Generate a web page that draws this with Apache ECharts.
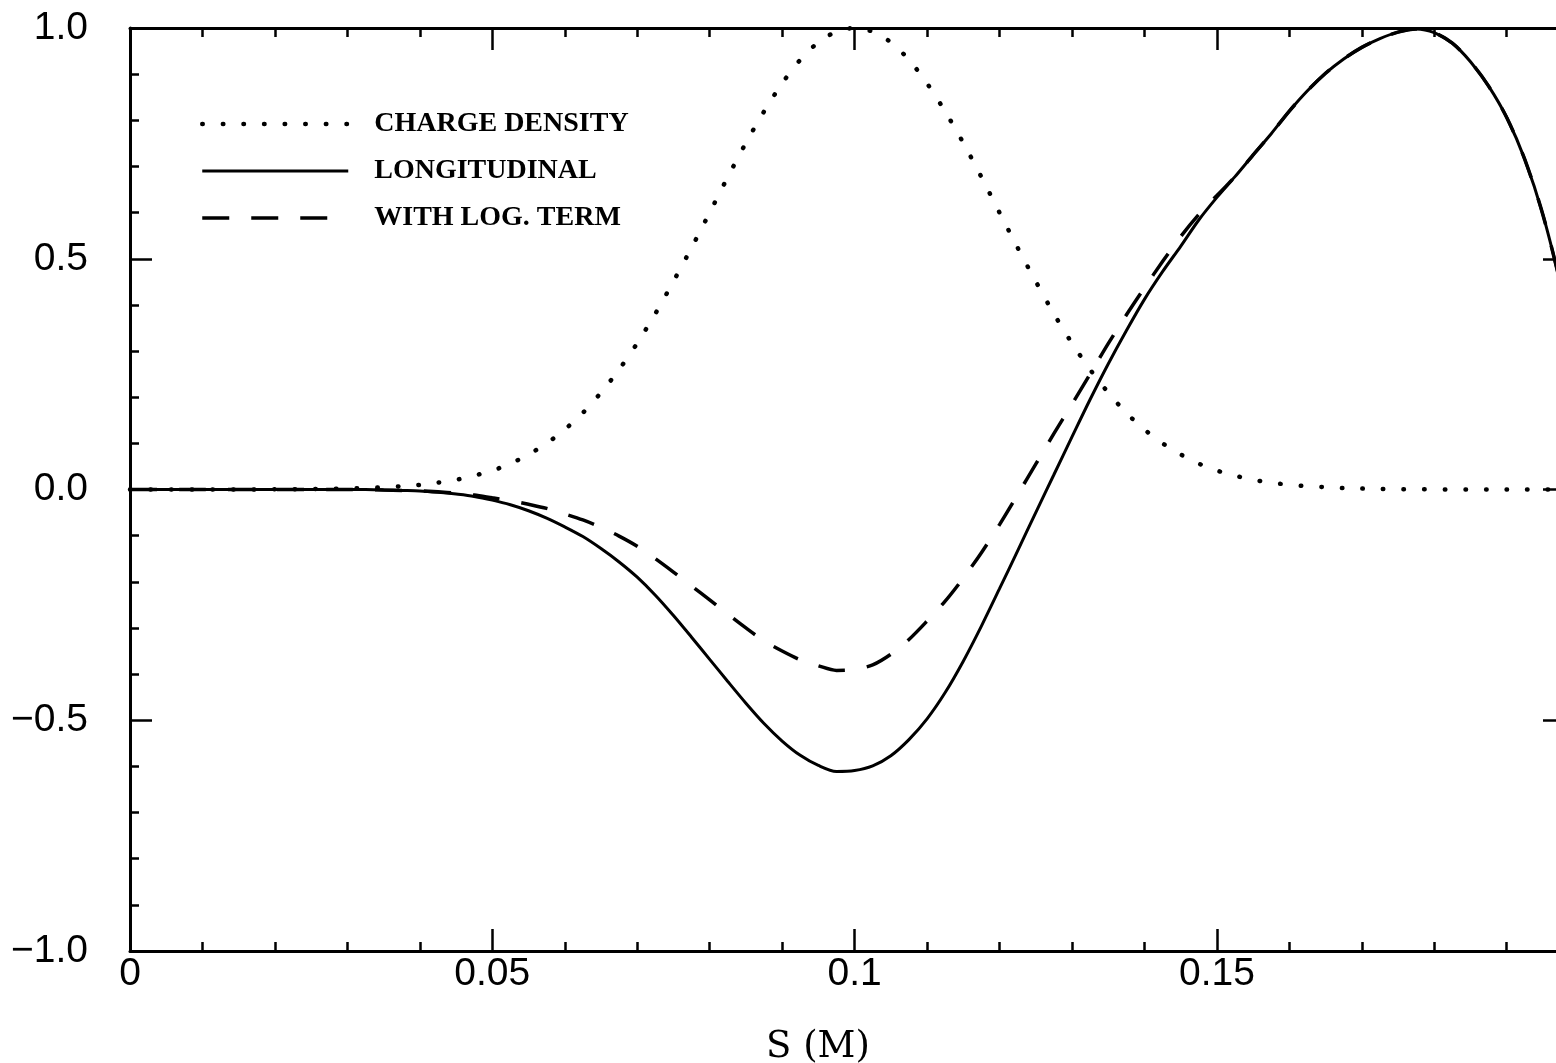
<!DOCTYPE html>
<html>
<head>
<meta charset="utf-8">
<script src="https://cdn.jsdelivr.net/npm/echarts@6/dist/echarts.min.js"></script>
<style>
html,body{margin:0;padding:0;background:#fff;overflow:hidden;}
#chart{width:1556px;height:1063px;}
</style>
</head>
<body>
<div id="chart"></div>
<script>
// S (m) sample positions
const sValues = [0,0.0025,0.005,0.0075,0.01,0.0125,0.015,0.0175,0.02,0.0225,
  0.025,0.0275,0.03,0.0325,0.035,0.0375,0.04,0.0425,0.045,0.0475,
  0.05,0.0525,0.055,0.0575,0.06,0.0625,0.065,0.0675,0.07,0.0725,
  0.075,0.0775,0.08,0.0825,0.085,0.0875,0.09,0.0925,0.095,0.0975,
  0.1,0.1025,0.105,0.1075,0.11,0.1125,0.115,0.1175,0.12,0.1225,
  0.125,0.1275,0.13,0.1325,0.135,0.1375,0.14,0.1425,0.145,0.1475,
  0.15,0.1525,0.155,0.1575,0.16,0.1625,0.165,0.1675,0.17,0.1725,
  0.175,0.1775,0.18,0.1825,0.185,0.1875,0.19,0.1925,0.195,0.1975,0.2];
// CHARGE DENSITY (dotted)
const chargeDensity = [0,0,0,0,0,0,0.0001,0.0002,0.0003,0.0005,
  0.0008,0.0012,0.002,0.003,0.005,0.007,0.010,0.015,0.021,0.030,
  0.041,0.056,0.076,0.100,0.130,0.166,0.210,0.260,0.317,0.381,
  0.451,0.524,0.600,0.677,0.751,0.819,0.880,0.931,0.969,0.992,
  1.0,0.992,0.969,0.931,0.880,0.819,0.751,0.677,0.600,0.524,
  0.451,0.381,0.317,0.260,0.210,0.166,0.130,0.100,0.076,0.056,
  0.041,0.030,0.021,0.015,0.010,0.007,0.005,0.003,0.002,0.0012,
  0.0008,0.0005,0.0003,0.0002,0.0001,0,0,0,0,0,0];
// LONGITUDINAL (solid)
const longitudinal = [0,0,0,0,0,0,0,0,0,0,
  0,0,0,0,-0.001,-0.002,-0.003,-0.006,-0.010,-0.015,
  -0.023,-0.033,-0.046,-0.062,-0.081,-0.102,-0.128,-0.157,-0.190,-0.229,
  -0.273,-0.320,-0.368,-0.416,-0.463,-0.507,-0.545,-0.576,-0.598,-0.611,
  -0.609,-0.599,-0.577,-0.542,-0.497,-0.440,-0.372,-0.296,-0.215,-0.133,
  -0.050,0.032,0.114,0.195,0.272,0.344,0.412,0.472,0.527,0.584,
  0.633,0.678,0.725,0.771,0.820,0.864,0.902,0.933,0.958,0.977,
  0.991,0.998,0.990,0.967,0.927,0.874,0.806,0.715,0.595,0.440,0.260];
// WITH LOG. TERM (dashed)
const withLogTerm = [0,0,0,0,0,0,0,0,0,0,
  0,0,0,0,-0.001,-0.002,-0.003,-0.005,-0.008,-0.012,
  -0.018,-0.024,-0.032,-0.041,-0.053,-0.066,-0.082,-0.101,-0.123,-0.150,
  -0.179,-0.209,-0.239,-0.270,-0.300,-0.328,-0.350,-0.369,-0.382,-0.392,
  -0.390,-0.380,-0.357,-0.325,-0.285,-0.242,-0.192,-0.137,-0.076,-0.011,
  0.055,0.121,0.185,0.250,0.316,0.378,0.437,0.494,0.548,0.596,
  0.637,0.678,0.725,0.771,0.820,0.864,0.902,0.933,0.958,0.977,
  0.991,0.998,0.990,0.967,0.927,0.874,0.806,0.715,0.595,0.440,0.260];
const seriesNames = ['CHARGE DENSITY','LONGITUDINAL','WITH LOG. TERM'];
// x tick marks / labels (the visible window ends just short of S = 0.2)
const xMajorTicks = [0,0.05,0.1,0.15];
const xMinorTicks = [0.01,0.02,0.03,0.04,0.06,0.07,0.08,0.09,0.11,0.12,0.13,0.14,0.16,0.17,0.18,0.19];
const xVisibleMax = 0.1968;
const yTickStep = 0.5;

const pair = arr => sValues.map((s,i)=>[s,arr[i]]);
const black = '#000';
const tickFont = {fontFamily:'Liberation Sans', fontSize:39, color:black};
const dotStyle = {color:black, width:4.5, type:[0.5,20.1], cap:'round'};
const solidStyle = {color:black, width:3};
const dashStyle = {color:black, width:3.5, type:[27,22]};

function xAxisDef(pos, minor){
  return {
    type:'value', min:0, max:xVisibleMax, position:pos,
    axisLine:{show:!minor, onZero:false, lineStyle:{color:black, width:3}},
    axisTick:{show:true, inside:true, length: minor?9:22, customValues: minor?xMinorTicks:xMajorTicks,
      lineStyle:{color:black, width:2.5}},
    minorTick:{show:false},
    splitLine:{show:false}, minorSplitLine:{show:false},
    axisLabel: (pos==='bottom' && !minor) ? Object.assign({show:true, margin:4, customValues:xMajorTicks}, tickFont) : {show:false},
    name: (pos==='bottom' && !minor) ? 'S (M)' : '',
    nameLocation:'middle', nameGap:78,
    nameTextStyle:{fontFamily:'DejaVu Serif', fontSize:37, color:black, padding:[0,50,0,0]}
  };
}
function yAxisDef(pos){
  const left = pos==='left';
  return {
    type:'value', min:-1, max:1, interval:yTickStep, position:pos,
    axisLine:{show:left, onZero:false, lineStyle:{color:black, width:3}},
    axisTick:{show:true, inside:true, length: left?22:13, lineStyle:{color:black, width:2.5}},
    minorTick:{show:left, splitNumber:5, length:9, lineStyle:{color:black, width:2.5}},
    splitLine:{show:false}, minorSplitLine:{show:false},
    axisLabel: left ? Object.assign({show:true, margin:42,
      formatter: v => v.toFixed(1).replace('-', '\u2212')}, tickFont) : {show:false}
  };
}

const chart = echarts.init(document.getElementById('chart'), null, {renderer:'canvas'});
chart.setOption({
  animation:false,
  backgroundColor:'#fff',
  grid:{left:130, right:0, top:28, bottom:112, containLabel:false, outerBoundsMode:'none'},
  xAxis:[xAxisDef('bottom',false), xAxisDef('top',false), xAxisDef('bottom',true), xAxisDef('top',true)],
  yAxis:[yAxisDef('left'), yAxisDef('right')],
  legend:{
    orient:'vertical', left:200, top:109, padding:0, itemWidth:146, itemHeight:14, itemGap:17,
    itemStyle:{opacity:0},
    textStyle:{fontFamily:'Liberation Serif', fontWeight:'bold', fontSize:28, color:black, lineHeight:30, padding:[0,0,0,21]},
    data:[
      {name:seriesNames[0], lineStyle:dotStyle},
      {name:seriesNames[1], lineStyle:solidStyle},
      {name:seriesNames[2], lineStyle:dashStyle}
    ]
  },
  series:[
    {name:seriesNames[0], type:'line', data:pair(chargeDensity), smooth:0.3, showSymbol:false, symbol:'none',
      itemStyle:{color:black}, lineStyle:dotStyle},
    {name:seriesNames[1], type:'line', data:pair(longitudinal), smooth:0.3, showSymbol:false, symbol:'none',
      itemStyle:{color:black}, lineStyle:solidStyle},
    {name:seriesNames[2], type:'line', data:pair(withLogTerm), smooth:0.3, showSymbol:false, symbol:'none',
      itemStyle:{color:black}, lineStyle:dashStyle}
  ]
});
</script>
</body>
</html>
